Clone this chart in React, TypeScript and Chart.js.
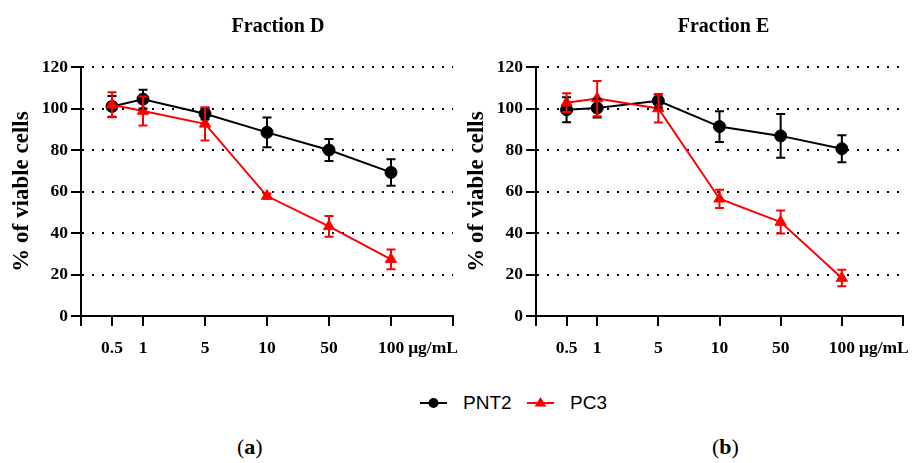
import React, { useEffect, useRef } from 'react';
import { Chart, registerables } from 'chart.js';

Chart.register(...registerables);

// ---- data ----
const xSlots = ['', '0.5', '1', '', '5', '', '10', '', '50', '', '100', '', ''];
const doses = ['0.5', '1', '5', '10', '50', '100'];
const yTicks = [0, 20, 40, 60, 80, 100, 120];
const unitLabel = 'μg/mL';
const seriesNames = ['PNT2', 'PC3'];
const titles = ['Fraction D', 'Fraction E'];
const captions = ['a', 'b'];

const fracD_PNT2 = [101, 104.5, 97.5, 88.5, 80, 69.2];
const fracD_PNT2_sd = [5, 4.5, 2.8, 7.2, 5.3, 6.4];
const fracD_PC3 = [101.8, 98.8, 92.6, 57.8, 43.2, 27.3];
const fracD_PC3_sd = [6, 7, 8, 1.2, 5, 4.8];

const fracE_PNT2 = [99.4, 100.2, 103.7, 91.3, 86.8, 80.6];
const fracE_PNT2_sd = [6, 4.5, 3.2, 7.4, 10.5, 6.5];
const fracE_PC3 = [102.8, 104.8, 100, 56.5, 45.3, 18.3];
const fracE_PC3_sd = [4.5, 8.5, 6.8, 4.4, 5.5, 4];

const SERIF = '"Liberation Serif", "Times New Roman", serif';
const SANS = '"Liberation Sans", Arial, sans-serif';
const BLACK = '#000000';
const RED = '#ff0000';

const TICK_FONT = { family: SERIF, size: 17.5, weight: 'bold' as const };
const X_TICK_LEN = 10;
const X_TICK_PAD = 12;

const errorBarPlugin = {
  id: 'errorBars',
  afterDatasetsDraw(chart: any) {
    const { ctx } = chart;
    const xs = chart.scales.x;
    const ys = chart.scales.y;
    chart.data.datasets.forEach((ds: any) => {
      const errs: number[] = ds.errors || [];
      ds.data.forEach((p: any, j: number) => {
        const e = errs[j] || 0;
        const px = xs.getPixelForValue(p.x);
        const top = ys.getPixelForValue(p.y + e);
        const bot = ys.getPixelForValue(p.y - e);
        ctx.save();
        ctx.strokeStyle = ds.borderColor;
        ctx.lineWidth = 2;
        ctx.beginPath();
        ctx.moveTo(px, top);
        ctx.lineTo(px, bot);
        ctx.moveTo(px - 4.5, top);
        ctx.lineTo(px + 4.5, top);
        ctx.moveTo(px - 4.5, bot);
        ctx.lineTo(px + 4.5, bot);
        ctx.stroke();
        ctx.restore();
      });
    });
  },
};

const unitPlugin = {
  id: 'unitLabel',
  afterDraw(chart: any) {
    const { ctx } = chart;
    const xs = chart.scales.x;
    const idx = xSlots.indexOf('100');
    const px = xs.getPixelForValue(idx);
    ctx.save();
    ctx.font = `bold ${TICK_FONT.size}px ${SERIF}`;
    const w = ctx.measureText('100').width;
    ctx.fillStyle = BLACK;
    ctx.textAlign = 'left';
    ctx.textBaseline = 'middle';
    const y = xs.top + X_TICK_LEN + X_TICK_PAD + (TICK_FONT.size * 1.2) / 2;
    ctx.fillText(unitLabel, px + w / 2 + 4, y);
    ctx.restore();
  },
};

const panelTitlePlugin = {
  id: 'panelTitle',
  afterDraw(chart: any, _args: any, opts: any) {
    const { ctx, chartArea } = chart;
    ctx.save();
    ctx.font = `bold 20px ${SERIF}`;
    ctx.fillStyle = BLACK;
    ctx.textAlign = 'center';
    ctx.textBaseline = 'alphabetic';
    ctx.fillText(opts.text, (chartArea.left + chartArea.right) / 2 + (opts.offset || 0), chartArea.top - 35);
    ctx.restore();
  },
};

function buildConfig(title: string, titleOffset: number, pnt2: number[], pnt2Sd: number[], pc3: number[], pc3Sd: number[], padRight: number): any {
  const toPoints = (vals: number[]) => doses.map((d, i) => ({ x: xSlots.indexOf(d), y: vals[i] }));
  return {
    type: 'line',
    data: {
      datasets: [
        {
          label: seriesNames[0],
          data: toPoints(pnt2),
          errors: pnt2Sd,
          borderColor: BLACK,
          backgroundColor: BLACK,
          borderWidth: 2,
          pointStyle: 'circle',
          pointRadius: 6,
          pointBorderWidth: 1,
          tension: 0,
          order: 2,
        },
        {
          label: seriesNames[1],
          data: toPoints(pc3),
          errors: pc3Sd,
          borderColor: RED,
          backgroundColor: RED,
          borderWidth: 2,
          pointStyle: 'triangle',
          pointRadius: 6.5,
          pointBorderWidth: 1,
          tension: 0,
          order: 1,
        },
      ],
    },
    options: {
      animation: false,
      responsive: false,
      events: [],
      layout: { padding: { left: 0, right: padRight, top: 67, bottom: 0 } },
      plugins: {
        legend: { display: false },
        tooltip: { enabled: false },
        title: { display: false },
        panelTitle: { text: title, offset: titleOffset },
      },
      scales: {
        x: {
          type: 'linear',
          min: 0,
          max: xSlots.length - 1,
          afterBuildTicks: (s: any) => {
            s.ticks = xSlots
              .map((l, i) => ({ l, i }))
              .filter((t) => t.l !== '' || t.i === 0 || t.i === xSlots.length - 1)
              .map((t) => ({ value: t.i }));
          },
          ticks: {
            autoSkip: false,
            maxRotation: 0,
            color: BLACK,
            font: TICK_FONT,
            padding: X_TICK_PAD,
            callback: (v: number) => xSlots[v] ?? '',
          },
          grid: { drawOnChartArea: false, drawTicks: true, tickLength: X_TICK_LEN, color: BLACK, lineWidth: 2 },
          border: { display: true, color: BLACK, width: 2 },
          afterFit: (s: any) => {
            s.height = 45;
          },
        },
        y: {
          type: 'linear',
          min: 0,
          max: 120,
          afterBuildTicks: (s: any) => {
            s.ticks = yTicks.map((v) => ({ value: v }));
          },
          ticks: { color: BLACK, font: TICK_FONT, padding: 3 },
          grid: { color: BLACK, lineWidth: 2, drawTicks: true, tickLength: 10, tickBorderDash: [] },
          border: { display: true, color: BLACK, width: 2, dash: [2, 8] },
          title: {
            display: true,
            text: '% of viable cells',
            color: BLACK,
            font: { family: SERIF, size: 23, weight: 'bold' },
            padding: { top: 8, bottom: 0 },
          },
          afterFit: (s: any) => {
            s.width = 81;
          },
        },
      },
    },
    plugins: [errorBarPlugin, unitPlugin, panelTitlePlugin],
  };
}

function Panel(props: { left: number; width: number; config: () => any }) {
  const ref = useRef<HTMLCanvasElement | null>(null);
  useEffect(() => {
    if (!ref.current) return;
    const chart = new Chart(ref.current, props.config());
    return () => chart.destroy();
  }, []);
  return (
    <canvas
      ref={ref}
      width={props.width}
      height={361}
      style={{ position: 'absolute', left: props.left, top: 0, width: props.width, height: 361 }}
    />
  );
}

function LegendItem(props: { x: number; color: string; marker: 'circle' | 'triangle'; label: string }) {
  return (
    <div style={{ position: 'absolute', left: props.x, top: 390, height: 26, display: 'flex', alignItems: 'center' }}>
      <svg width={28} height={26} style={{ display: 'block' }}>
        <line x1={0} y1={13} x2={27} y2={13} stroke={props.color} strokeWidth={2} />
        {props.marker === 'circle' ? (
          <circle cx={13.5} cy={13} r={5} fill={props.color} />
        ) : (
          <polygon points="13.5,7 19.5,16.5 7.5,16.5" fill={props.color} />
        )}
      </svg>
      <span style={{ fontFamily: SANS, fontSize: 19, color: '#000', marginLeft: 15, lineHeight: '26px' }}>{props.label}</span>
    </div>
  );
}

export default function App() {
  useEffect(() => {
    document.body.style.margin = '0';
  }, []);
  return (
    <div style={{ position: 'absolute', left: 0, top: 0, width: 915, height: 463, background: '#fff', overflow: 'hidden' }}>
      <Panel left={0} width={470} config={() => buildConfig(titles[0], 11, fracD_PNT2, fracD_PNT2_sd, fracD_PC3, fracD_PC3_sd, 17)} />
      <Panel left={455} width={460} config={() => buildConfig(titles[1], 4, fracE_PNT2, fracE_PNT2_sd, fracE_PC3, fracE_PC3_sd, 7)} />
      <LegendItem x={420} color={BLACK} marker="circle" label={seriesNames[0]} />
      <LegendItem x={527} color={RED} marker="triangle" label={seriesNames[1]} />
      <div style={{ position: 'absolute', left: 237, top: 434, fontFamily: SERIF, fontSize: 22, color: '#000' }}>
        (<b>{captions[0]}</b>)
      </div>
      <div style={{ position: 'absolute', left: 712, top: 434, fontFamily: SERIF, fontSize: 22, color: '#000' }}>
        (<b>{captions[1]}</b>)
      </div>
    </div>
  );
}
